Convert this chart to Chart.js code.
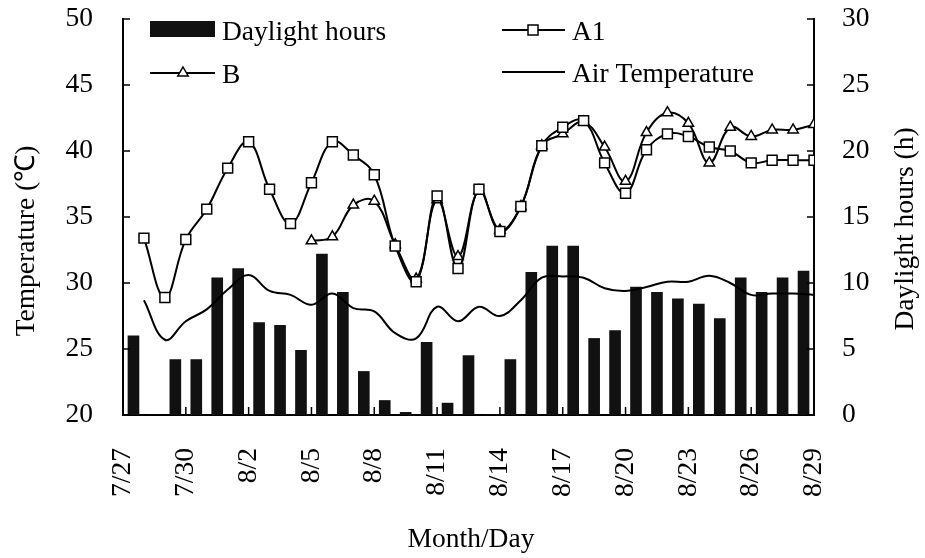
<!DOCTYPE html>
<html>
<head>
<meta charset="utf-8">
<script src="https://cdn.jsdelivr.net/npm/chart.js@4.4.0/dist/chart.umd.min.js"></script>
<style>
  html, body { margin: 0; padding: 0; background: #fff; }
  #wrap { width: 925px; height: 558px; }
</style>
</head>
<body>
<div id="wrap"><canvas id="myChart"></canvas></div>
<script>
// tick labels, one every 3 days (day boundaries 0, 3, ... 33)
const tickLabels = ['7/27', '7/30', '8/2', '8/5', '8/8', '8/11', '8/14', '8/17', '8/20', '8/23', '8/26', '8/29'];

// daylight hours, one bar per day (33 days)
const daylight = [6.0, 0, 4.2, 4.2, 10.4, 11.1, 7.0, 6.8, 4.9, 12.2, 9.3, 3.3, 1.1, 0.2, 5.5, 0.9,
                  4.5, 0, 4.2, 10.8, 12.8, 12.8, 5.8, 6.4, 9.7, 9.3, 8.8, 8.4, 7.3, 10.4, 9.3, 10.4, 10.9];

// temperatures at day boundaries 0..33 (null = no reading)
const a1 = [null, 33.4, 28.9, 33.3, 35.6, 38.7, 40.7, 37.1, 34.5, 37.6, 40.7, 39.7, 38.2, 32.8, 30.1, 36.6,
            31.1, 37.1, 33.9, 35.8, 40.4, 41.8, 42.3, 39.1, 36.8, 40.1, 41.3, 41.1, 40.3, 40.0, 39.1, 39.3, 39.3, 39.3];
const b = [null, null, null, null, null, null, null, null, null, 33.2, 33.5, 35.9, 36.2, 32.9, 30.3, 36.3,
           32.0, 37.0, 34.0, 35.8, 40.4, 41.3, 42.2, 40.3, 37.7, 41.4, 42.9, 42.1, 39.1, 41.8, 41.1, 41.6, 41.6, 42.0];
const airTemp = [null, 28.7, 25.7, 27.1, 28.0, 29.5, 30.6, 29.4, 29.1, 28.35, 29.2, 28.1, 27.85, 26.2, 25.8, 28.2,
                 27.1, 28.2, 27.5, 28.7, 30.4, 30.5, 30.4, 29.6, 29.4, 29.7, 30.1, 30.1, 30.55, 30.0, 29.1, 29.2, 29.2, 29.1];

const FONT = "'Liberation Serif', 'Times New Roman', serif";
const FS = 27.5;

// bars sit in the middle of each day, line points on the day boundaries
const barPoints = daylight.map((v, i) => ({ x: i + 0.5, y: v }));
const linePoints = arr => arr.map((v, i) => ({ x: i, y: v }));

function drawTriangle(ctx, x, y, r) {
  ctx.beginPath();
  ctx.moveTo(x, y - r);
  ctx.lineTo(x + r * 0.866, y + r * 0.5);
  ctx.lineTo(x - r * 0.866, y + r * 0.5);
  ctx.closePath();
  ctx.fillStyle = '#fff';
  ctx.fill();
  ctx.stroke();
}

const extras = {
  id: 'extras',
  afterDraw(chart) {
    const ctx = chart.ctx, a = chart.chartArea;
    const sx = chart.scales.x, sy = chart.scales.y, sy2 = chart.scales.y2;
    ctx.save();
    ctx.strokeStyle = '#000';
    ctx.lineWidth = 1.5;

    // inward tick marks
    ctx.beginPath();
    sy.ticks.forEach(t => { const p = sy.getPixelForValue(t.value); ctx.moveTo(a.left, p); ctx.lineTo(a.left + 7, p); });
    sy2.ticks.forEach(t => { const p = sy2.getPixelForValue(t.value); ctx.moveTo(a.right, p); ctx.lineTo(a.right - 7, p); });
    sx.ticks.forEach(t => { const p = sx.getPixelForValue(t.value); ctx.moveTo(p, a.bottom); ctx.lineTo(p, a.bottom - 8); });
    ctx.stroke();

    // axis titles
    ctx.fillStyle = '#000';
    ctx.font = FS + 'px ' + FONT;
    ctx.textAlign = 'center';
    ctx.textBaseline = 'middle';
    ctx.fillText('Month/Day', 471, 540);

    ctx.save();
    ctx.translate(27, 241);
    ctx.rotate(-Math.PI / 2);
    ctx.fillText('Temperature (\u2103)', 0, 0);
    ctx.restore();

    ctx.save();
    ctx.translate(906, 229);
    ctx.rotate(-Math.PI / 2);
    ctx.fillText('Daylight hours (h)', 0, 0);
    ctx.restore();

    // legend, two columns
    ctx.textAlign = 'left';
    ctx.textBaseline = 'alphabetic';
    ctx.lineWidth = 2;

    ctx.fillStyle = '#111';
    ctx.fillRect(150, 21, 65, 16);
    ctx.fillStyle = '#000';
    ctx.fillText('Daylight hours', 222, 40);

    ctx.beginPath(); ctx.moveTo(150, 73); ctx.lineTo(215, 73); ctx.stroke();
    ctx.lineWidth = 1.5;
    drawTriangle(ctx, 183, 73, 6);
    ctx.fillStyle = '#000';
    ctx.fillText('B', 222, 83);

    ctx.lineWidth = 2;
    ctx.beginPath(); ctx.moveTo(502, 30); ctx.lineTo(565, 30); ctx.stroke();
    ctx.lineWidth = 1.5;
    ctx.fillStyle = '#fff';
    ctx.fillRect(528, 25, 10, 10);
    ctx.strokeRect(528, 25, 10, 10);
    ctx.fillStyle = '#000';
    ctx.fillText('A1', 572, 40);

    ctx.lineWidth = 2;
    ctx.beginPath(); ctx.moveTo(502, 72); ctx.lineTo(565, 72); ctx.stroke();
    ctx.fillText('Air Temperature', 572, 82);

    ctx.restore();
  }
};

const data = {
  datasets: [
    {
      type: 'line', label: 'A1', data: linePoints(a1), yAxisID: 'y', order: 1,
      borderColor: '#000', borderWidth: 2, tension: 0.4,
      pointStyle: 'rect', pointRadius: 7, pointBorderWidth: 1.5,
      pointBackgroundColor: '#fff', pointBorderColor: '#000'
    },
    {
      type: 'line', label: 'B', data: linePoints(b), yAxisID: 'y', order: 2,
      borderColor: '#000', borderWidth: 2, tension: 0.4,
      pointStyle: 'triangle', pointRadius: 6, pointBorderWidth: 1.5,
      pointBackgroundColor: '#fff', pointBorderColor: '#000'
    },
    {
      type: 'line', label: 'Air Temperature', data: linePoints(airTemp), yAxisID: 'y', order: 3,
      borderColor: '#000', borderWidth: 2, tension: 0.4, pointRadius: 0
    },
    {
      type: 'bar', label: 'Daylight hours', data: barPoints, yAxisID: 'y2', order: 10,
      backgroundColor: '#111', barThickness: 11
    }
  ]
};

const tickFont = { family: FONT, size: FS };

// fixed plot box: 123..814 wide, 19..415 tall
function fitY(w) {
  return s => { s.width = w; s.paddingTop = 19; s.paddingBottom = 0; };
}

const config = {
  type: 'bar',
  data: data,
  options: {
    responsive: true,
    maintainAspectRatio: false,
    animation: false,
    layout: { padding: { top: 19, left: 0, right: 0, bottom: 0 } },
    plugins: { legend: { display: false }, tooltip: { enabled: false } },
    scales: {
      x: {
        type: 'linear', min: 0, max: 33, offset: false,
        grid: { display: false, drawTicks: false },
        border: { display: true, color: '#000', width: 2 },
        ticks: {
          stepSize: 3, autoSkip: false, maxRotation: 90, minRotation: 90,
          padding: 33, color: '#000', font: tickFont,
          callback: v => tickLabels[v / 3]
        },
        afterFit: s => { s.height = 143; s.paddingLeft = 0; s.paddingRight = 0; }
      },
      y: {
        position: 'left', min: 20, max: 50,
        grid: { display: false, drawTicks: false },
        border: { display: true, color: '#000', width: 2 },
        ticks: { stepSize: 5, padding: 30, color: '#000', font: tickFont },
        afterFit: fitY(123)
      },
      y2: {
        position: 'right', min: 0, max: 30,
        grid: { display: false, drawTicks: false },
        border: { display: true, color: '#000', width: 2 },
        ticks: { stepSize: 5, padding: 28, color: '#000', font: tickFont },
        afterFit: fitY(111)
      }
    }
  },
  plugins: [extras]
};

const myChart = new Chart(document.getElementById('myChart'), config);
</script>
</body>
</html>
